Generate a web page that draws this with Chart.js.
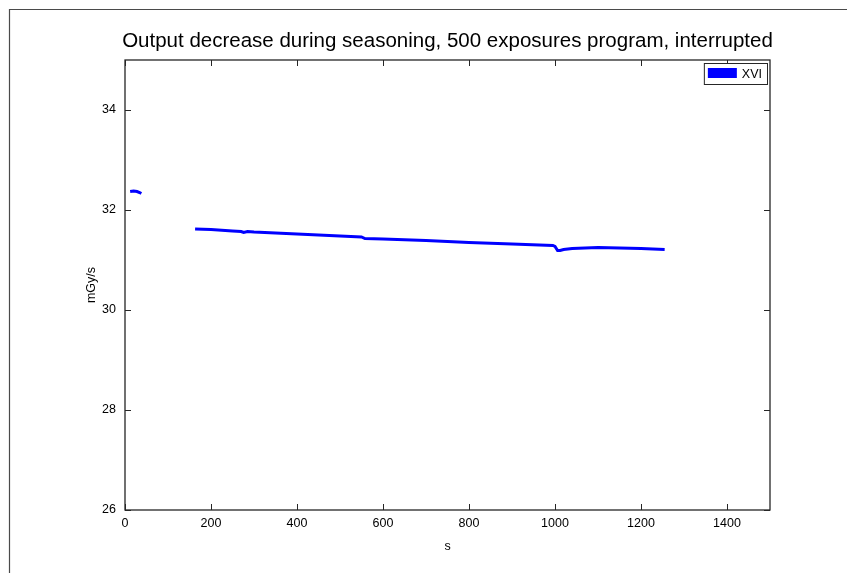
<!DOCTYPE html>
<html>
<head>
<meta charset="utf-8">
<script src="https://cdn.jsdelivr.net/npm/chart.js@4/dist/chart.umd.min.js"></script>
<style>
  html, body { margin: 0; padding: 0; background: #ffffff; }
  canvas { display: block; }
</style>
</head>
<body>
<canvas id="c" width="847" height="573"></canvas>
<script>
// Output of the XVI tube during seasoning (mGy/s vs seconds)
const titleText = 'Output decrease during seasoning, 500 exposures program, interrupted';
const seriesLabel = 'XVI';

// first short run before the interruption
const run1Time = [12, 20, 28, 34, 38];
const run1Dose = [32.37, 32.38, 32.37, 32.35, 32.33];

// second run after the restart
const run2Time = [163, 200, 250, 270, 276, 285, 300, 400, 500, 550, 558, 600, 700, 800, 900, 995, 1000, 1006, 1012, 1020, 1040, 1100, 1150, 1200, 1255];
const run2Dose = [31.62, 31.61, 31.58, 31.57, 31.55, 31.57, 31.56, 31.52, 31.48, 31.46, 31.43, 31.42, 31.39, 31.35, 31.32, 31.29, 31.27, 31.19, 31.19, 31.21, 31.23, 31.25, 31.24, 31.23, 31.21];

const xTickValues = [0, 200, 400, 600, 800, 1000, 1200, 1400];
const yTickValues = [26, 28, 30, 32, 34];
const xRange = [0, 1500];
const yRange = [26, 35];

const points = run1Time.map((t, i) => ({ x: t, y: run1Dose[i] }))
  .concat([{ x: 100, y: null }])
  .concat(run2Time.map((t, i) => ({ x: t, y: run2Dose[i] })));

const FONT = 'Liberation Sans, Arial, Helvetica, sans-serif';
const AXIS_COLOR = '#262626';
const TICK_LEN = 6;

const framePlugin = {
  id: 'matlabFrame',
  beforeDraw(chart) {
    const ctx = chart.ctx;
    ctx.save();
    ctx.fillStyle = '#ffffff';
    ctx.fillRect(0, 0, chart.width, chart.height);
    // figure border along top and left
    ctx.strokeStyle = '#4a4a4a';
    ctx.lineWidth = 1.2;
    ctx.beginPath();
    ctx.moveTo(9.5, chart.height);
    ctx.lineTo(9.5, 9.5);
    ctx.lineTo(chart.width, 9.5);
    ctx.stroke();
    ctx.restore();
  },
  afterDraw(chart) {
    const ctx = chart.ctx;
    const a = chart.chartArea;
    const xs = chart.scales.x, ys = chart.scales.y;
    ctx.save();
    // axes box
    ctx.strokeStyle = AXIS_COLOR;
    ctx.lineWidth = 1.3;
    ctx.strokeRect(a.left, a.top, a.right - a.left, a.bottom - a.top);
    // inward tick marks on all four sides
    ctx.lineWidth = 1;
    ctx.beginPath();
    xs.ticks.forEach(t => {
      const px = Math.round(xs.getPixelForValue(t.value)) + 0.5;
      ctx.moveTo(px, a.bottom); ctx.lineTo(px, a.bottom - TICK_LEN);
      ctx.moveTo(px, a.top); ctx.lineTo(px, a.top + TICK_LEN);
    });
    ys.ticks.forEach(t => {
      const py = Math.round(ys.getPixelForValue(t.value)) + 0.5;
      ctx.moveTo(a.left, py); ctx.lineTo(a.left + TICK_LEN, py);
      ctx.moveTo(a.right, py); ctx.lineTo(a.right - TICK_LEN, py);
    });
    ctx.stroke();

    // title above the axes
    ctx.fillStyle = '#000000';
    ctx.font = '20.5px ' + FONT;
    ctx.textAlign = 'center';
    ctx.textBaseline = 'alphabetic';
    ctx.fillText(titleText, (a.left + a.right) / 2, 47);

    // legend box in the upper right corner
    const ds = chart.data.datasets[0];
    ctx.font = '12.5px ' + FONT;
    const tw = ctx.measureText(ds.label).width;
    const bw = 4 + 29 + 5 + tw + 5;
    const bh = 21;
    const bx = a.right - 3 - bw;
    const by = a.top + 3;
    ctx.fillStyle = '#ffffff';
    ctx.fillRect(bx, by, bw, bh);
    ctx.strokeStyle = '#262626';
    ctx.lineWidth = 1;
    ctx.strokeRect(bx + 0.5, by + 0.5, bw, bh);
    ctx.fillStyle = ds.borderColor;
    ctx.fillRect(bx + 4, by + 5, 29, 10);
    ctx.fillStyle = '#000000';
    ctx.textAlign = 'left';
    ctx.textBaseline = 'middle';
    ctx.fillText(ds.label, bx + 38, by + bh / 2 + 1);
    ctx.restore();
  }
};

new Chart(document.getElementById('c'), {
  type: 'line',
  data: {
    datasets: [{
      label: seriesLabel,
      data: points,
      borderColor: '#0000ff',
      backgroundColor: '#0000ff',
      borderWidth: 3,
      pointRadius: 0,
      spanGaps: false,
      tension: 0
    }]
  },
  options: {
    responsive: false,
    animation: false,
    devicePixelRatio: 1,
    layout: { padding: { left: 75, right: 77, top: 60, bottom: 13 } },
    plugins: {
      legend: { display: false },
      title: { display: false },
      tooltip: { enabled: false }
    },
    scales: {
      x: {
        type: 'linear',
        min: xRange[0],
        max: xRange[1],
        afterBuildTicks: s => { s.ticks = xTickValues.map(v => ({ value: v })); },
        afterFit: s => { s.height = 50; },
        grid: { display: false, drawTicks: false },
        border: { display: false },
        ticks: { color: '#000000', font: { family: FONT, size: 12.5 }, padding: 6, maxRotation: 0, callback: v => String(v) },
        title: { display: true, text: 's', color: '#000000', font: { family: FONT, size: 12.5 }, padding: { top: 0, bottom: 6 } }
      },
      y: {
        type: 'linear',
        min: yRange[0],
        max: yRange[1],
        afterBuildTicks: s => { s.ticks = yTickValues.map(v => ({ value: v })); },
        afterFit: s => { s.width = 50; },
        grid: { display: false, drawTicks: false },
        border: { display: false },
        ticks: { color: '#000000', font: { family: FONT, size: 12.5 }, padding: 9, callback: v => String(v) },
        title: { display: true, text: 'mGy/s', color: '#000000', font: { family: FONT, size: 12.5 }, padding: { top: 9, bottom: 0 } }
      }
    }
  },
  plugins: [framePlugin]
});
</script>
</body>
</html>
